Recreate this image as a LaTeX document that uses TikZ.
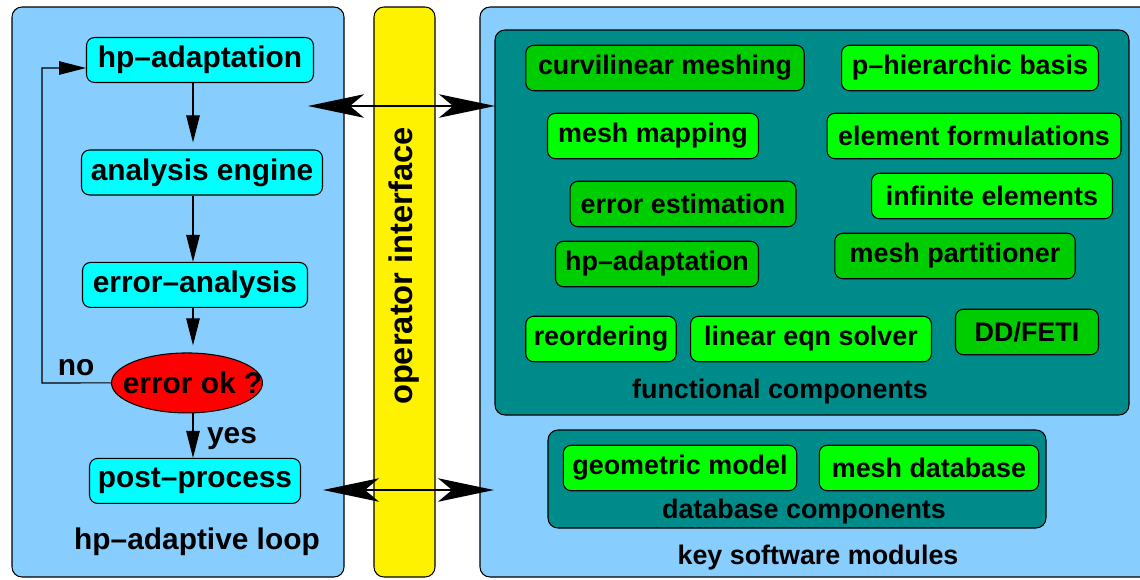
\documentclass[tikz,border=0pt]{standalone}
\usepackage{fontspec}
\setmainfont{Liberation Sans}
\usetikzlibrary{arrows.meta,shapes.geometric}
\definecolor{panelblue}{RGB}{135,206,255}
\definecolor{loopcyan}{RGB}{0,255,255}
\definecolor{groupteal}{RGB}{0,139,139}
\definecolor{modlime}{RGB}{0,255,0}
\definecolor{modgreen}{RGB}{0,205,0}

\begin{document}
\begin{tikzpicture}[x=0.02cm,y=-0.02cm,line width=0.6pt,node distance=2.25cm,
  flow/.style={-{Triangle[length=0.54cm,width=0.27cm]}},
  io/.style={{Stealth[length=1.12cm,width=0.47cm,inset=0.28cm]}-{Stealth[length=1.12cm,width=0.47cm,inset=0.28cm]},line width=1pt},
  panel/.style={draw,fill=panelblue,rounded corners=0.2cm},
  group box/.style={draw,fill=groupteal,rounded corners=0.2cm},
  loop node/.style={draw,fill=loopcyan,rounded corners=0.16cm,inner sep=0,minimum height=0.9cm,font=\bfseries\fontsize{17}{20}\selectfont},
  check node/.style={draw,ellipse,fill=red,inner sep=0,minimum width=3.02cm,minimum height=1.2cm,font=\bfseries\fontsize{17}{20}\selectfont},
  module node/.style={draw,fill=modlime,rounded corners=0.16cm,inner sep=0,minimum height=0.91cm,font=\bfseries\fontsize{15.3}{18}\selectfont},
  loop label/.style={font=\bfseries\fontsize{17}{20}\selectfont},
  group label/.style={font=\bfseries\fontsize{15.3}{18}\selectfont}]

    \clip (0,0) rectangle (1140,579);

    % panels
    \draw[panel] (12,7) rectangle (344,577);
    \draw[fill=yellow,rounded corners=0.2cm] (374,7) rectangle (435,577);
    \draw[panel] (480,7) rectangle (1170,577);
    \draw[group box] (495,30) rectangle (1129,415);
    \draw[group box] (548,430) rectangle (1046,528);

    % adaptive loop
    \node[loop node, minimum width=4.54cm] (1) at (200,60) {hp--adaptation};
    \node[loop node, minimum width=4.82cm] (2) [below of=1, xshift=0.04cm] {analysis engine};
    \node[loop node, minimum width=4.5cm] (3) [below of=2, xshift=-0.14cm] {error--analysis};
    \node[check node] (4) [below of=3, node distance=1.96cm, xshift=-0.16cm] {\makebox[0pt]{\hspace{0.22cm}error ok ?}};
    \node[loop node, minimum width=4.22cm] (5) [below of=4, node distance=1.96cm, xshift=0.16cm] {post--process};

    \node[loop label] (no) at (76,368) {no};
    \node[loop label] (yes) at (232,439) {yes};
    \node[loop label] (loopname) at (197,542) {hp--adaptive loop};

    \coordinate (spine) at (193,0);
    \coordinate (noturn) at (42,383);
    \path[flow]
        (1.south -| spine) edge[shorten >=0.14cm] (2.north -| spine)
        (2.south -| spine) edge (3.north -| spine)
        (3.south -| spine) edge[shorten >=0.14cm] (4.north -| spine)
        (4.south -| spine) edge (5.north -| spine)
        ;
    \draw[flow] (4.west) -- (noturn) |- ([yshift=-0.16cm]1.west);

    % operator interface
    \node[loop label, font=\bfseries\fontsize{18.6}{22}\selectfont, rotate=90] (opif) at (404,266) {operator interface};

    % software modules
    \node[module node, fill=modgreen, minimum width=5.57cm] (6) at (665,68) {curvilinear meshing};
    \node[module node, minimum width=5.14cm] (7) at (970,68) {p--hierarchic basis};
    \node[module node, minimum width=4.22cm] (8) at (653,136) {mesh mapping};
    \node[module node, minimum width=5.88cm] (9) at (974,136) {element formulations};
    \node[module node, fill=modgreen, minimum width=4.52cm] (10) at (683,204) {error estimation};
    \node[module node, minimum width=4.82cm] (11) at (992,196) {infinite elements};
    \node[module node, fill=modgreen, minimum width=4.06cm] (12) at (657,264) {hp--adaptation};
    \node[module node, fill=modgreen, minimum width=4.81cm] (13) at (955,256) {mesh partitioner};
    \node[module node, minimum width=3.01cm] (14) at (601,339) {reordering};
    \node[module node, minimum width=4.82cm] (15) at (811,339) {linear eqn solver};
    \node[module node, fill=modgreen, minimum width=2.86cm] (16) at (1027,332) {DD/FETI\hspace{0.1cm}};
    \node[module node, minimum width=4.67cm] (17) at (680,468) {geometric model};
    \node[module node, minimum width=4.39cm] (18) at (929,468) {mesh database};

    \node[group label] (funclabel) at (780,392) {functional components};
    \node[group label] (dblabel) at (804,512) {database components};
    \node[group label] (keylabel) at (818,558) {key software modules};

    % links through the interface
    \coordinate (io1) at (308,106);
    \coordinate (io2) at (495,106);
    \coordinate (io3) at (323,490);
    \coordinate (io4) at (494,490);
    \draw[io] (io1) -- (io2);
    \draw[io] (io3) -- (io4);
\end{tikzpicture}
\end{document}
